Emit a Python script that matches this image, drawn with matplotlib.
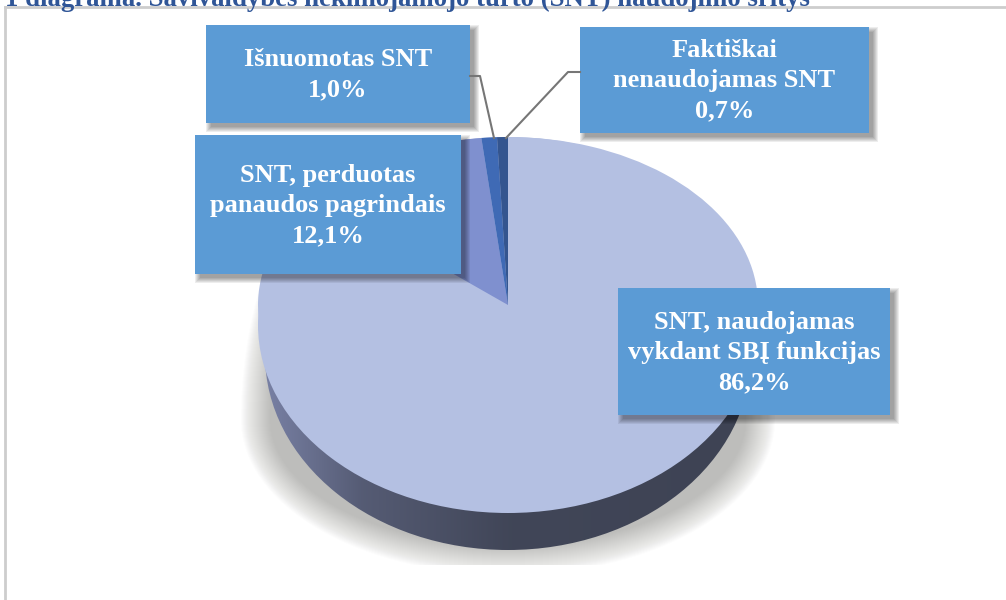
import numpy as np
import matplotlib
matplotlib.use('Agg')
import matplotlib.pyplot as plt
from matplotlib.patches import Ellipse, Rectangle

W, H = 1006, 600

# Chart data
title = '1 diagrama. Savivaldybės nekilnojamojo turto (SNT) naudojimo sritys'
shares = [86.2, 12.1, 1.0, 0.7]
labels = ['SNT, naudojamas\nvykdant SBĮ funkcijas\n86,2%',
          'SNT, perduotas\npanaudos pagrindais\n12,1%',
          'Išnuomotas SNT\n1,0%',
          'Faktiškai\nnenaudojamas SNT\n0,7%']
slice_colors = ['#b4c0e2', '#7f90cf', '#3f6ab5', '#34558f']

plt.rcParams['font.family'] = ['Liberation Serif', 'DejaVu Serif']
fig = plt.figure(figsize=(W / 100, H / 100), dpi=100, facecolor='white')


# Helper: axes in reference pixel coordinates (y goes down)
def pixel_axes(zorder):
    ax = fig.add_axes([0, 0, 1, 1], zorder=zorder)
    ax.set_xlim(0, W)
    ax.set_ylim(H, 0)
    ax.axis('off')
    ax.patch.set_alpha(0)
    return ax


back = pixel_axes(1)

# Chart frame, runs off the right and bottom of the crop
back.plot([5, 5], [600, 7], color='#cdcdcd', lw=2)
back.plot([5, 1006], [7, 7], color='#cdcdcd', lw=2)

# Title, cut off by the top of the picture
back.text(5, 6, title, color='#2f5597', fontsize=19.3, fontweight='bold',
          ha='left', va='baseline', clip_on=False)

# Soft shadow under the pie: narrow above y=420, rounder below it, cut flat at y=565
crop_up = Rectangle((200, 270), 620, 150, transform=back.transData)
crop_low = Rectangle((200, 420), 620, 145, transform=back.transData)
for grow in np.arange(30, 0, -1):
    rx = 237 + grow
    for ry, crop in [(360, crop_up), (125 + grow, crop_low)]:
        sh = Ellipse((508, 420), 2 * rx, 2 * ry, fc='#6f6f6a', ec='none', alpha=0.016)
        back.add_patch(sh)
        sh.set_clip_path(crop)

# Side of the pie as a horizontal gradient clipped to the lower ellipse
side = Ellipse((508, 355), 486, 390, fc='none', ec='none')
back.add_patch(side)
grad = np.interp(np.linspace(0, 1, 256), [0, 0.2, 0.5, 1], [0, 0.6, 0.95, 1])
c0, c1 = np.array([0x78, 0x80, 0xa4]) / 255, np.array([0x3e, 0x43, 0x54]) / 255
img = (c0 + (c1 - c0) * grad[:, None])[None, :, :]
im = back.imshow(img, extent=(265, 751, 555, 150), aspect='auto', zorder=2)
im.set_clip_path(side)
back.set_xlim(0, W)
back.set_ylim(H, 0)

# Top of the pie, the part below the apex is wider than above it
back.add_patch(Ellipse((508, 325), 500, 376, fc=slice_colors[0], ec='none', zorder=3))

# Slices: apex at (508, 305), top of the pie at y=137
pie_ax = fig.add_axes([258 / W, 1 - 473 / H, 500 / W, 336 / H], zorder=2)
pie_ax.pie(shares, colors=slice_colors, startangle=90, counterclock=False, radius=1,
           wedgeprops={'linewidth': 0})
pie_ax.set_aspect('auto')
pie_ax.set_xlim(-1, 1)
pie_ax.set_ylim(-1, 1)
pie_ax.patch.set_alpha(0)

front = pixel_axes(3)

# Leader lines for the two thin slices
front.plot([470, 480, 494], [76, 76, 138], color='#767676', lw=1.5)
front.plot([580, 568, 506], [72, 72, 138], color='#767676', lw=1.5)

# Label boxes: x0, y0, x1, y1
boxes = [(618, 288, 890, 415), (195, 135, 461, 274), (206, 25, 470, 123), (580, 27, 869, 133)]
for lab, (x0, y0, x1, y1) in zip(labels, boxes):
    for grow in range(5, -1, -1):
        front.add_patch(Rectangle((x0 + 5 - grow, y0 + 5 - grow), x1 - x0 + 2 * grow - 1,
                                  y1 - y0 + 2 * grow - 1, fc='black', ec='none', alpha=0.07))
    front.add_patch(Rectangle((x0, y0), x1 - x0, y1 - y0, fc='#5b9bd5', ec='none'))
    front.text((x0 + x1) / 2, (y0 + y1) / 2 + 1, lab, color='white', fontsize=19, fontweight='bold',
               ha='center', va='center', linespacing=1.4)

fig.savefig('out.png', dpi=100)
